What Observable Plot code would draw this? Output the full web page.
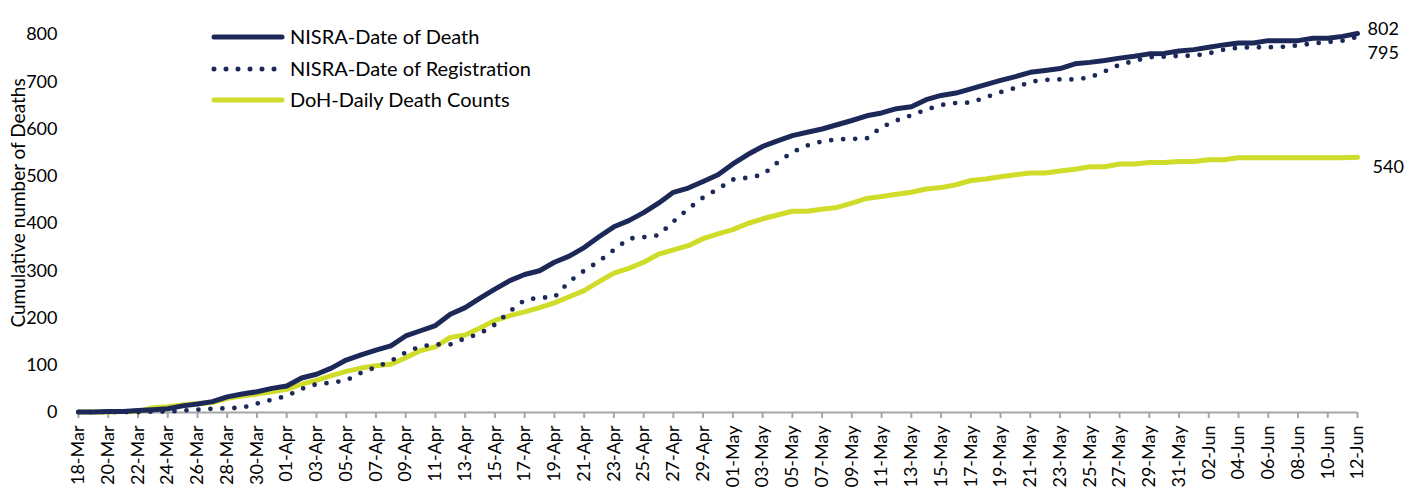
<!DOCTYPE html>
<html>
<head>
<meta charset="utf-8">
<script src="https://cdn.jsdelivr.net/npm/d3@7"></script>
<script src="https://cdn.jsdelivr.net/npm/@observablehq/plot@0.6"></script>
<style>
  html, body { margin: 0; padding: 0; background: #fff; }
  #chart { width: 1419px; height: 490px; overflow: hidden; }
</style>
</head>
<body>
<div id="chart"></div>
<script>
// ---- categories: daily dates 18-Mar .. 12-Jun 2020 ----
const startDate = new Date(Date.UTC(2020, 2, 18));
const endDate = new Date(Date.UTC(2020, 5, 12));
const dates = d3.utcDay.range(startDate, d3.utcDay.offset(endDate, 1));

// ---- series values (cumulative deaths) ----
const dateOfDeath = [1,1,2,2,4,6,8,14,18,23,33,39,44,51,56,73,81,94,111,122,132,141,162,173,184,208,222,242,261,279,292,300,318,331,349,372,393,406,423,443,466,475,489,503,526,546,563,575,586,593,600,609,618,628,634,643,647,662,671,676,685,694,703,711,720,724,728,738,741,745,750,754,759,760,765,768,773,778,782,782,787,787,787,792,792,796,802];
const dateOfRegistration = [1,1,1,1,1,2,2,4,6,8,9,10,19,27,35,50,60,63,68,84,96,109,127,140,144,144,157,167,186,214,238,243,244,277,300,320,344,368,371,375,404,431,455,473,493,497,503,529,551,565,574,578,579,580,604,618,629,641,651,655,656,667,678,687,700,704,705,705,709,722,736,744,752,753,755,755,760,768,772,773,773,774,777,781,784,787,795];
const dohDaily = [1,1,1,2,2,10,12,16,19,21,30,35,39,44,49,60,68,78,87,94,99,102,116,131,139,159,164,179,195,205,213,222,232,245,258,277,295,305,318,335,344,353,368,378,387,400,410,418,426,426,430,434,443,453,457,462,466,473,476,482,491,494,499,503,507,507,511,515,520,520,526,526,529,529,531,531,535,535,539,539,539,539,539,539,539,539,540];

// ---- series names & tick labels ----
const seriesNames = ["NISRA-Date of Death", "NISRA-Date of Registration", "DoH-Daily Death Counts"];
const yTicks = [0, 100, 200, 300, 400, 500, 600, 700, 800];
const xTickDates = dates.filter((d, i) => i % 2 === 0);
const yTitle = "Cumulative number of Deaths";

const navy = "#1c2958";
const lime = "#cfdc2a";
const font = "Lato, 'Open Sans', sans-serif";

const rows = (arr, name) => dates.map((d, i) => ({date: d, value: arr[i], series: name}));
const deathRows = rows(dateOfDeath, seriesNames[0]);
const regRows = rows(dateOfRegistration, seriesNames[1]);
const dohRows = rows(dohDaily, seriesNames[2]);

const last = dates.length - 1;
const endLabels = [
  {date: dates[last], value: dateOfDeath[last], dy: -10, dx: 10},
  {date: dates[last], value: dateOfRegistration[last], dy: 11, dx: 10},
  {date: dates[last], value: dohDaily[last], dy: 4, dx: 15}
];

const chart = Plot.plot({
  width: 1419,
  height: 490,
  marginLeft: 78,
  marginRight: 62,
  marginTop: 34,
  marginBottom: 78,
  style: {fontFamily: font, fontSize: "18px", color: "#000", background: "#fff"},
  x: {type: "utc", domain: [startDate, endDate]},
  y: {domain: [0, 800]},
  marks: [
    Plot.axisY({ticks: yTicks, tickSize: 0, tickPadding: 21, label: null, fontSize: 18, fill: "#000"}),
    Plot.axisX({ticks: xTickDates, tickFormat: d3.utcFormat("%d-%b"), tickRotate: -90, tickSize: 6, tickPadding: 7,
      label: null, stroke: "#a6a6a6", strokeWidth: 2, fill: "#000", fontSize: 18}),
    Plot.ruleY([0], {stroke: "#a6a6a6", strokeWidth: 2}),
    Plot.line(dohRows, {x: "date", y: "value", stroke: lime, strokeWidth: 5, strokeLinejoin: "round"}),
    Plot.line(regRows, {x: "date", y: "value", stroke: navy, strokeWidth: 4.8, strokeDasharray: "0 12", strokeLinecap: "round"}),
    Plot.line(deathRows, {x: "date", y: "value", stroke: navy, strokeWidth: 5, strokeLinejoin: "round", strokeLinecap: "round"}),
    Plot.text(endLabels, {x: "date", y: "value", text: d => String(d.value),
      textAnchor: "start", fill: "#000", fontSize: 18}),
  ]
});

document.getElementById("chart").appendChild(chart);
const svg = d3.select(chart);

// per-label offsets for the end-of-line value labels
svg.selectAll("g[aria-label='text'] text").each(function(_, i) {
  const e = endLabels[i];
  if (!e) return;
  d3.select(this).attr("dx", e.dx).attr("dy", (e.dy / 18 + 0.32) + "em");
});

// y-axis title
svg.append("text")
  .attr("transform", "translate(17,203) rotate(-90)")
  .attr("text-anchor", "middle")
  .attr("dominant-baseline", "central")
  .attr("font-family", font)
  .attr("font-size", 19)
  .attr("fill", "#000")
  .text(yTitle);

// legend (inside the plot area, top-left)
const legend = svg.append("g").attr("font-family", font).attr("font-size", 20).attr("text-anchor", "start");
const legendStyles = [
  {stroke: navy, dash: null},
  {stroke: navy, dash: "0 12"},
  {stroke: lime, dash: null}
];
const legendY = [37, 69, 100];
seriesNames.forEach((name, i) => {
  const g = legend.append("g").attr("transform", `translate(0,${legendY[i]})`);
  const ln = g.append("line").attr("x1", 214).attr("x2", 282).attr("y1", 0).attr("y2", 0)
    .attr("stroke", legendStyles[i].stroke).attr("stroke-width", 5).attr("stroke-linecap", "round");
  if (legendStyles[i].dash) ln.attr("stroke-dasharray", legendStyles[i].dash);
  g.append("text").attr("x", 290).attr("y", 0).attr("dy", "0.35em").attr("text-anchor", "start").attr("fill", "#000").text(name);
});
</script>
</body>
</html>
